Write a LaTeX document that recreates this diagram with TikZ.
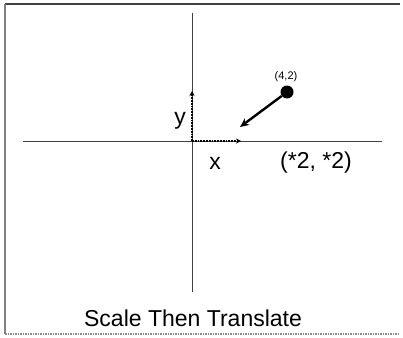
\documentclass[tikz,border=0pt]{standalone}
\usepackage{fontspec}
\setmainfont{Liberation Sans}
\usetikzlibrary{arrows.meta}

\begin{document}
\begin{tikzpicture}[x=1pt, y=-1pt, >=Stealth,
  axis/.style={draw=black!75, line width=1pt},
  unitvec/.style={->, densely dotted, line width=1.8pt, >={Stealth[length=5pt,width=5pt]}},
  label/.style={inner sep=0pt, font=\fontsize{23}{23}\selectfont}]
  \useasboundingbox (0,0) rectangle (403,337);
  % frame
  \draw[black!75, line width=2pt] (5,4) -- (400,4);
  \draw[black!50, line width=2pt] (5,4) -- (5,334);
  \draw[black!45, densely dotted, line width=1.5pt] (5,334) -- (400,334);
  % axes
  \coordinate (o) at (192,141);
  \draw[axis] (23,141) -- (382,141);
  \draw[axis] (192,13) -- (192,292);
  % unit vectors
  \coordinate (ux) at (241,141);
  \coordinate (uy) at (192,91);
  \draw[unitvec] (o) -- (ux);
  \draw[unitvec] (o) -- (uy);
  \node[label] (x) at (215,163) {x};
  \node[label] (y) at (180,121) {y};
  % point
  \node[circle, fill=black, inner sep=0pt, minimum size=13pt] (p) at (287,92) {};
  \node[inner sep=0pt, font=\fontsize{11}{11}\selectfont] (plabel) at (286,77) {(4,2)};
  \coordinate (tip) at (240,127);
  \draw[->, line width=2.4pt, >={Stealth[length=9pt,width=8pt]}] (p) -- (tip);
  \node[label] (op) at (316,163) {(*2, *2)};
  \node[label] (title) at (193,318) {Scale Then Translate};
\end{tikzpicture}
\end{document}
